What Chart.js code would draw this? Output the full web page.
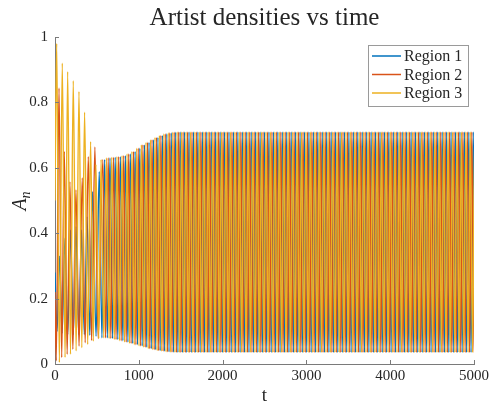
<!DOCTYPE html>
<html>
<head>
<meta charset="utf-8">
<script src="https://cdn.jsdelivr.net/npm/chart.js"></script>
<style>
  body { margin: 0; background: #fff; }
  canvas { display: block; }
</style>
</head>
<body>
<canvas id="densChart" width="492" height="405"></canvas>
<script>
// series names
const regionNames = ['Region 1', 'Region 2', 'Region 3'];

// transient part (t < ~600), extrema: time / value
const r1T = [0, 25, 52, 85, 119, 152, 185, 218, 250, 284, 317, 350, 383, 415, 448, 490, 528, 560];
const r1V = [0.28, 0.10, 0.33, 0.095, 0.385, 0.09, 0.41, 0.09, 0.42, 0.09, 0.41, 0.09, 0.45, 0.088, 0.527, 0.085, 0.588, 0.08];

const r2T = [0, 15, 48, 80, 111, 145, 178, 213, 250, 287, 325, 360, 397, 437, 476, 515];
const r2V = [0.22, 0.01, 0.844, 0.02, 0.65, 0.03, 0.557, 0.045, 0.532, 0.055, 0.569, 0.065, 0.634, 0.072, 0.664, 0.078];

const r3T = [0, 20, 52, 87, 120, 151, 185, 218, 252, 286, 320, 353, 390, 425, 457, 488, 522];
const r3V = [0.5, 0.98, 0.005, 0.92, 0.02, 0.894, 0.03, 0.866, 0.04, 0.833, 0.05, 0.77, 0.06, 0.68, 0.07, 0.61, 0.078];

// after the transient: start time of each oscillation cycle (Region 3 peaks)
const cycleT = [550, 614, 677, 739, 800, 860, 918, 975, 1031, 1086, 1140, 1193, 1246, 1299,
  1352, 1405, 1458, 1511, 1564, 1617, 1670, 1723, 1776, 1829, 1882, 1935, 1988, 2041, 2094,
  2147, 2200, 2253, 2306, 2359, 2412, 2465, 2518, 2571, 2624, 2677, 2730, 2783, 2836, 2889,
  2942, 2995, 3048, 3101, 3154, 3207, 3260, 3313, 3366, 3419, 3472, 3525, 3578, 3631, 3684,
  3737, 3790, 3843, 3896, 3949, 4002, 4055, 4108, 4161, 4214, 4267, 4320, 4373, 4426, 4479,
  4532, 4585, 4638, 4691, 4744, 4797, 4850, 4903, 4956, 5009, 5062];

// peak / trough level of each cycle while the band widens (first cycles)
const rampTop = [0.625, 0.63, 0.632, 0.634, 0.637, 0.642, 0.65, 0.66, 0.67, 0.678, 0.686, 0.693, 0.699, 0.704, 0.707, 0.709];
const rampBot = [0.08, 0.078, 0.075, 0.071, 0.067, 0.063, 0.059, 0.055, 0.051, 0.047, 0.044, 0.041, 0.039, 0.037, 0.036, 0.035];
// settled levels
const steadyTop = 0.71;
const steadyBot = 0.035;
// where in the cycle each region peaks
const phase = [2 / 3, 1 / 3, 0];

const xTicks = [0, 1000, 2000, 3000, 4000, 5000];
const yTicks = [0, 0.2, 0.4, 0.6, 0.8, 1];

const lineColors = ['#0072BD', '#D95319', '#EDB120'];
const txtColor = '#262626';
const axisColor = '#7a7a7a';
const serif = '"Liberation Serif", "DejaVu Serif", serif';

function buildSeries(tArr, vArr, ph) {
    const pts = tArr.map((t, i) => ({ x: t, y: vArr[i] }));
    for (let k = 0; k < cycleT.length - 1; k++) {
        const p = cycleT[k + 1] - cycleT[k];
        const top = k < rampTop.length ? rampTop[k] : steadyTop;
        const bot = k < rampBot.length ? rampBot[k] : steadyBot;
        const tp = cycleT[k] + ph * p;
        pts.push({ x: tp, y: top }, { x: tp + p / 2, y: bot });
    }
    return pts;
}

const seriesT = [r1T, r2T, r3T];
const seriesV = [r1V, r2V, r3V];

// titles, inward ticks and boxed legend
const decor = {
    id: 'decor',
    afterDraw(chart) {
        const { ctx, chartArea: a, scales } = chart;
        ctx.save();

        // ticks pointing inward
        ctx.strokeStyle = axisColor;
        ctx.lineWidth = 1;
        ctx.beginPath();
        xTicks.forEach(v => {
            const px = Math.round(scales.x.getPixelForValue(v)) + 0.5;
            ctx.moveTo(px, a.bottom);
            ctx.lineTo(px, a.bottom - 4);
        });
        yTicks.forEach(v => {
            const py = Math.round(scales.y.getPixelForValue(v)) + 0.5;
            ctx.moveTo(a.left, py);
            ctx.lineTo(a.left + 4, py);
        });
        ctx.stroke();

        ctx.fillStyle = txtColor;
        // title
        ctx.font = '25px ' + serif;
        ctx.textAlign = 'center';
        ctx.textBaseline = 'middle';
        ctx.fillText('Artist densities vs time', (a.left + a.right) / 2, 18);

        // x title
        ctx.font = '19px ' + serif;
        ctx.fillText('t', (a.left + a.right) / 2, 396);

        // y title A_n
        ctx.save();
        ctx.translate(21, 201);
        ctx.rotate(-Math.PI / 2);
        ctx.font = 'italic 20px ' + serif;
        const wA = ctx.measureText('A').width;
        ctx.font = 'italic 14px ' + serif;
        const wN = ctx.measureText('n').width;
        const x0 = -(wA + wN) / 2;
        ctx.textAlign = 'left';
        ctx.font = 'italic 20px ' + serif;
        ctx.fillText('A', x0, 0);
        ctx.font = 'italic 14px ' + serif;
        ctx.fillText('n', x0 + wA, 5);
        ctx.restore();

        // legend
        const bx = 368.5, by = 45.5, bw = 100, bh = 61;
        ctx.fillStyle = '#fff';
        ctx.fillRect(bx, by, bw, bh);
        ctx.strokeStyle = '#9a9a9a';
        ctx.strokeRect(bx, by, bw, bh);
        ctx.font = '16px ' + serif;
        ctx.textAlign = 'left';
        ctx.textBaseline = 'middle';
        regionNames.forEach((name, i) => {
            const ly = 56 + i * 18.5;
            ctx.strokeStyle = lineColors[i];
            ctx.lineWidth = 1.5;
            ctx.beginPath();
            ctx.moveTo(372, ly);
            ctx.lineTo(401, ly);
            ctx.stroke();
            ctx.fillStyle = txtColor;
            ctx.fillText(name, 404, ly + 1);
        });
        ctx.restore();
    }
};

new Chart(document.getElementById('densChart').getContext('2d'), {
    type: 'line',
    data: {
        datasets: regionNames.map((name, i) => ({
            label: name,
            data: buildSeries(seriesT[i], seriesV[i], phase[i]),
            borderColor: lineColors[i],
            backgroundColor: lineColors[i],
            borderWidth: 1.4,
            pointRadius: 0,
            cubicInterpolationMode: 'monotone',
            fill: false,
            order: 3 - i   // region 3 drawn last, on top
        }))
    },
    options: {
        responsive: false,
        devicePixelRatio: 1,
        animation: false,
        parsing: false,
        layout: { padding: { top: 37, right: 17, left: 0, bottom: 0 } },
        plugins: {
            legend: { display: false },
            tooltip: { enabled: false },
            title: { display: false }
        },
        scales: {
            x: {
                type: 'linear',
                min: 0,
                max: 5000,
                afterFit: s => { s.height = 41; },
                afterBuildTicks: s => { s.ticks = xTicks.map(v => ({ value: v })); },
                ticks: { color: txtColor, font: { family: serif, size: 15 }, padding: 3, maxRotation: 0,
                         callback: v => String(v) },
                grid: { drawOnChartArea: false, drawTicks: false },
                border: { color: axisColor, width: 1 }
            },
            y: {
                min: 0,
                max: 1,
                afterFit: s => { s.width = 55; },
                afterBuildTicks: s => { s.ticks = yTicks.map(v => ({ value: v })); },
                ticks: { color: txtColor, font: { family: serif, size: 15 }, padding: 7,
                         callback: v => String(v) },
                grid: { drawOnChartArea: false, drawTicks: false },
                border: { color: axisColor, width: 1 }
            }
        }
    },
    plugins: [decor]
});
</script>
</body>
</html>
